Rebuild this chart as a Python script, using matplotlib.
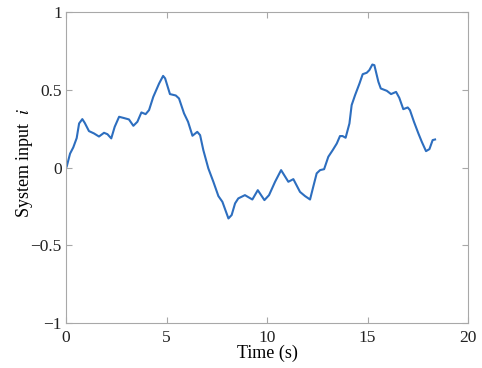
import numpy as np
import matplotlib.pyplot as plt

plt.rcParams['font.family'] = ['Liberation Serif', 'DejaVu Serif']
plt.rcParams['mathtext.fontset'] = 'stix'

# values
time_s = [0.0, 0.03, 0.2, 0.36, 0.53, 0.65, 0.81, 0.93, 1.14, 1.39, 1.64,
          1.89, 2.06, 2.25, 2.42, 2.64, 2.85, 3.13, 3.35, 3.55, 3.75, 3.96,
          4.13, 4.34, 4.63, 4.83, 4.93, 5.17, 5.46, 5.62, 5.87, 6.07, 6.29,
          6.53, 6.67, 6.83, 7.08, 7.33, 7.58, 7.78, 8.08, 8.24, 8.41, 8.57,
          8.9, 9.27, 9.54, 9.87, 10.1, 10.4, 10.7, 11.06, 11.31, 11.64,
          11.89, 12.14, 12.3, 12.47, 12.64, 12.84, 13.05, 13.27, 13.47,
          13.63, 13.76, 13.91, 14.1, 14.21, 14.38, 14.6, 14.76, 14.96,
          15.09, 15.24, 15.34, 15.54, 15.66, 15.96, 16.17, 16.42, 16.58,
          16.78, 17.0, 17.11, 17.31, 17.53, 17.7, 17.91, 18.08, 18.24, 18.36]
sys_input = [0.0, 0.005, 0.09, 0.13, 0.19, 0.284, 0.312, 0.288, 0.235, 0.22,
             0.2, 0.224, 0.215, 0.188, 0.262, 0.327, 0.32, 0.31, 0.269,
             0.295, 0.355, 0.344, 0.37, 0.455, 0.541, 0.59, 0.574, 0.473,
             0.464, 0.445, 0.349, 0.295, 0.205, 0.23, 0.209, 0.113, -0.005,
             -0.091, -0.183, -0.22, -0.327, -0.305, -0.23, -0.198, -0.177,
             -0.205, -0.145, -0.209, -0.177, -0.091, -0.016, -0.091, -0.074,
             -0.156, -0.183, -0.205, -0.123, -0.037, -0.016, -0.01, 0.07,
             0.113, 0.155, 0.203, 0.203, 0.192, 0.284, 0.402, 0.466, 0.541,
             0.601, 0.61, 0.627, 0.663, 0.659, 0.552, 0.509, 0.494, 0.473,
             0.487, 0.449, 0.376, 0.387, 0.37, 0.295, 0.22, 0.166, 0.106,
             0.119, 0.177, 0.181]

fig = plt.figure(figsize=(4.82, 3.68), dpi=100)
ax = fig.add_axes([0.137, 0.122, 0.834, 0.845])
ax.plot(time_s, sys_input, color='#2d6ebf', lw=1.5)

ax.set_xlim(0, 20)
ax.set_ylim(-1, 1)
ax.set_xticks([0, 5, 10, 15, 20])
ax.set_yticks([-1, -0.5, 0, 0.5, 1])
ax.set_yticklabels(['\u22121', '\u22120.5', '0', '0.5', '1'])
ax.set_xlabel('Time (s)', fontsize=13, labelpad=-1)
ax.set_ylabel('System input  $i$', fontsize=13)
ax.yaxis.set_label_coords(-0.078, 0.515)

for s in ax.spines.values():
    s.set_color('#a8a8a8')
    s.set_linewidth(0.8)
ax.tick_params(direction='in', length=4, color='#a8a8a8', labelsize=12.5,
               top=True, right=True, labelcolor='#222222')
ax.tick_params(axis='x', pad=5)
ax.tick_params(axis='y', pad=3)

fig.savefig('out.png', dpi=100)
